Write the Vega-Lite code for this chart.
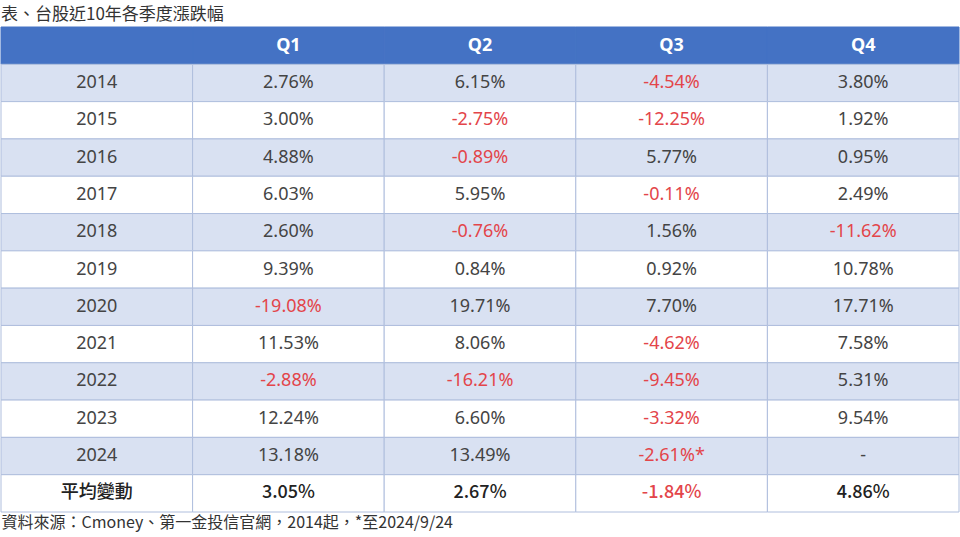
{
  "$schema": "https://vega.github.io/schema/vega-lite/v6.json",
  "autosize": "none",
  "width": 958,
  "height": 485,
  "padding": {"left": 1, "top": 27, "right": 1, "bottom": 25},
  "background": "white",
  "config": {"view": {"stroke": null}},
  "title": {
    "text": "表、台股近10年各季度漲跌幅",
    "anchor": "start",
    "frame": "group",
    "fontSize": 17,
    "font": "Noto Sans CJK TC",
    "fontWeight": "normal",
    "color": "#333333",
    "baseline": "bottom",
    "offset": 6,
    "dy": 20
  },
  "data": {
    "values": [
      {"row": "header", "col": "年", "label": ""},
      {"row": "header", "col": "Q1", "label": "Q1"},
      {"row": "header", "col": "Q2", "label": "Q2"},
      {"row": "header", "col": "Q3", "label": "Q3"},
      {"row": "header", "col": "Q4", "label": "Q4"},
      {"row": "2014", "col": "年", "label": "2014"},
      {"row": "2014", "col": "Q1", "label": "2.76%"},
      {"row": "2014", "col": "Q2", "label": "6.15%"},
      {"row": "2014", "col": "Q3", "label": "-4.54%"},
      {"row": "2014", "col": "Q4", "label": "3.80%"},
      {"row": "2015", "col": "年", "label": "2015"},
      {"row": "2015", "col": "Q1", "label": "3.00%"},
      {"row": "2015", "col": "Q2", "label": "-2.75%"},
      {"row": "2015", "col": "Q3", "label": "-12.25%"},
      {"row": "2015", "col": "Q4", "label": "1.92%"},
      {"row": "2016", "col": "年", "label": "2016"},
      {"row": "2016", "col": "Q1", "label": "4.88%"},
      {"row": "2016", "col": "Q2", "label": "-0.89%"},
      {"row": "2016", "col": "Q3", "label": "5.77%"},
      {"row": "2016", "col": "Q4", "label": "0.95%"},
      {"row": "2017", "col": "年", "label": "2017"},
      {"row": "2017", "col": "Q1", "label": "6.03%"},
      {"row": "2017", "col": "Q2", "label": "5.95%"},
      {"row": "2017", "col": "Q3", "label": "-0.11%"},
      {"row": "2017", "col": "Q4", "label": "2.49%"},
      {"row": "2018", "col": "年", "label": "2018"},
      {"row": "2018", "col": "Q1", "label": "2.60%"},
      {"row": "2018", "col": "Q2", "label": "-0.76%"},
      {"row": "2018", "col": "Q3", "label": "1.56%"},
      {"row": "2018", "col": "Q4", "label": "-11.62%"},
      {"row": "2019", "col": "年", "label": "2019"},
      {"row": "2019", "col": "Q1", "label": "9.39%"},
      {"row": "2019", "col": "Q2", "label": "0.84%"},
      {"row": "2019", "col": "Q3", "label": "0.92%"},
      {"row": "2019", "col": "Q4", "label": "10.78%"},
      {"row": "2020", "col": "年", "label": "2020"},
      {"row": "2020", "col": "Q1", "label": "-19.08%"},
      {"row": "2020", "col": "Q2", "label": "19.71%"},
      {"row": "2020", "col": "Q3", "label": "7.70%"},
      {"row": "2020", "col": "Q4", "label": "17.71%"},
      {"row": "2021", "col": "年", "label": "2021"},
      {"row": "2021", "col": "Q1", "label": "11.53%"},
      {"row": "2021", "col": "Q2", "label": "8.06%"},
      {"row": "2021", "col": "Q3", "label": "-4.62%"},
      {"row": "2021", "col": "Q4", "label": "7.58%"},
      {"row": "2022", "col": "年", "label": "2022"},
      {"row": "2022", "col": "Q1", "label": "-2.88%"},
      {"row": "2022", "col": "Q2", "label": "-16.21%"},
      {"row": "2022", "col": "Q3", "label": "-9.45%"},
      {"row": "2022", "col": "Q4", "label": "5.31%"},
      {"row": "2023", "col": "年", "label": "2023"},
      {"row": "2023", "col": "Q1", "label": "12.24%"},
      {"row": "2023", "col": "Q2", "label": "6.60%"},
      {"row": "2023", "col": "Q3", "label": "-3.32%"},
      {"row": "2023", "col": "Q4", "label": "9.54%"},
      {"row": "2024", "col": "年", "label": "2024"},
      {"row": "2024", "col": "Q1", "label": "13.18%"},
      {"row": "2024", "col": "Q2", "label": "13.49%"},
      {"row": "2024", "col": "Q3", "label": "-2.61%*"},
      {"row": "2024", "col": "Q4", "label": "-"},
      {"row": "平均變動", "col": "年", "label": "平均變動"},
      {"row": "平均變動", "col": "Q1", "label": "3.05%"},
      {"row": "平均變動", "col": "Q2", "label": "2.67%"},
      {"row": "平均變動", "col": "Q3", "label": "-1.84%"},
      {"row": "平均變動", "col": "Q4", "label": "4.86%"}
    ]
  },
  "encoding": {
    "x": {
      "field": "col",
      "type": "nominal",
      "sort": null,
      "scale": {"type": "band", "paddingInner": 0, "paddingOuter": 0, "domain": ["年", "Q1", "Q2", "Q3", "Q4"]},
      "axis": {
        "orient": "bottom",
        "labels": false,
        "ticks": false,
        "domain": false,
        "grid": false,
        "title": "資料來源：Cmoney、第一金投信官網，2014起，*至2024/9/24",
        "titleAnchor": "start",
        "titleAlign": "left",
        "titleBaseline": "top",
        "titlePadding": 2,
        "titleFontSize": 16,
        "titleFont": "Noto Sans CJK TC",
        "titleFontWeight": "normal",
        "titleColor": "#333333"
      }
    },
    "y": {
      "field": "row",
      "type": "nominal",
      "sort": null,
      "scale": {"type": "band", "paddingInner": 0, "paddingOuter": 0,
        "domain": ["header", "2014", "2015", "2016", "2017", "2018", "2019", "2020", "2021", "2022", "2023", "2024", "平均變動"]},
      "axis": null
    }
  },
  "layer": [
    {
      "mark": {"type": "rect", "strokeWidth": 1},
      "encoding": {
        "fill": {
          "condition": [
            {"test": "datum.row === 'header'", "value": "#4472C4"},
            {"test": "indexof(['2014','2016','2018','2020','2022','2024'], datum.row) >= 0", "value": "#D9E1F2"}
          ],
          "value": "#FFFFFF"
        },
        "stroke": {
          "condition": {"test": "datum.row === 'header'", "value": "#4472C4"},
          "value": "#AFBEDD"
        }
      }
    },
    {
      "transform": [{"filter": "datum.row !== 'header' && datum.row !== '平均變動'"}],
      "mark": {"type": "text", "fontSize": 18, "font": "Noto Sans, Noto Sans CJK TC", "baseline": "middle", "align": "center"},
      "encoding": {
        "text": {"field": "label"},
        "color": {
          "condition": {"test": "indexof(datum.label, '-') === 0 && length(datum.label) > 1", "value": "#E3454A"},
          "value": "#444444"
        }
      }
    },
    {
      "transform": [{"filter": "datum.row === 'header'"}],
      "mark": {"type": "text", "fontSize": 18, "fontWeight": "bold", "font": "Noto Sans", "baseline": "middle", "align": "center", "color": "#FFFFFF"},
      "encoding": {"text": {"field": "label"}}
    },
    {
      "transform": [{"filter": "datum.row === '平均變動'"}],
      "mark": {"type": "text", "fontSize": 18, "fontWeight": 500, "font": "Noto Sans CJK TC", "baseline": "middle", "align": "center"},
      "encoding": {
        "text": {"field": "label"},
        "color": {
          "condition": {"test": "indexof(datum.label, '-') === 0 && length(datum.label) > 1", "value": "#E3454A"},
          "value": "#222222"
        }
      }
    }
  ]
}
